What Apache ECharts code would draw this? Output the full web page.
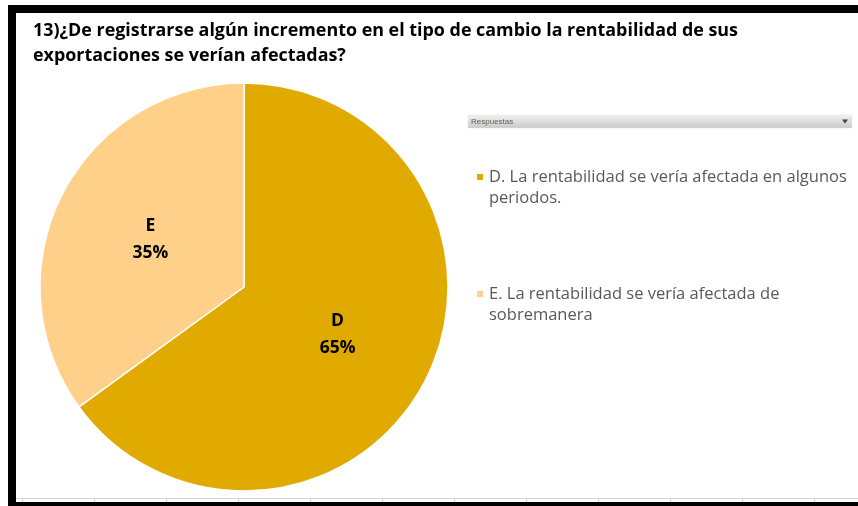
<!DOCTYPE html>
<html>
<head>
<meta charset="utf-8">
<script src="https://cdn.jsdelivr.net/npm/echarts@6/dist/echarts.min.js"></script>
<style>
  html, body { margin: 0; padding: 0; background: #fff; }
  #chart { width: 858px; height: 506px; }
</style>
</head>
<body>
<div id="chart"></div>
<script>
// pregunta 13 - gráfico de pastel
const titleText = "13)¿De registrarse algún incremento en el tipo de cambio la rentabilidad de sus\nexportaciones se verían afectadas?";
const letters = ["D", "E"];
const legendNames = [
  "D. La rentabilidad se vería afectada en algunos\nperiodos.",
  "E. La rentabilidad se vería afectada de\nsobremanera",
];
const percents = [65, 35];
const colors = ["#E1AA00", "#FFD08A"];

const chart = echarts.init(document.getElementById("chart"));

// columnas de la hoja (solo decoración)
const colLines = [22, 94, 166, 238, 310, 382, 454, 526, 598, 670, 742, 814];

const graphics = [
  // marco negro
  { type: "rect", shape: { x: 8, y: 5, width: 850, height: 8 }, style: { fill: "#000" } },
  { type: "rect", shape: { x: 8, y: 5, width: 8, height: 501 }, style: { fill: "#000" } },
  { type: "rect", shape: { x: 8, y: 502, width: 850, height: 4 }, style: { fill: "#000" } },
  { type: "line", shape: { x1: 16, y1: 498.5, x2: 858, y2: 498.5 }, style: { stroke: "#d4d4d4", lineWidth: 1 } },
  // barra "Respuestas"
  {
    type: "rect",
    shape: { x: 468, y: 115, width: 384, height: 13 },
    style: {
      fill: new echarts.graphic.LinearGradient(0, 0, 0, 1, [
        { offset: 0, color: "#f2f2f2" },
        { offset: 1, color: "#c8c8c8" },
      ]),
      stroke: "#e0e0e0",
      lineWidth: 0.5,
    },
  },
  {
    type: "text",
    x: 471, y: 121.5,
    style: { text: "Respuestas", fill: "#6a5a4a", font: "8px 'Liberation Sans'", verticalAlign: "middle" },
  },
  {
    type: "polygon",
    shape: { points: [[842, 119.5], [848, 119.5], [845, 123.5]] },
    style: { fill: "#444" },
  },
];
colLines.forEach((x) => {
  graphics.push({
    type: "line",
    shape: { x1: x + 0.5, y1: 498, x2: x + 0.5, y2: 502 },
    style: { stroke: "#d4d4d4", lineWidth: 1 },
  });
});

const option = {
  backgroundColor: "#fff",
  animation: false,
  title: {
    text: titleText,
    left: 28,
    top: 13,
    textStyle: {
      fontFamily: "'Open Sans', sans-serif",
      fontWeight: "bold",
      fontSize: 17.9,
      lineHeight: 25,
      color: "#000",
    },
  },
  legend: {
    orient: "vertical",
    left: 470,
    top: 162,
    itemWidth: 8,
    itemHeight: 30,
    itemGap: 75,
    icon: "path://M0,0H8V8H0Z M0,29.99L0.01,30Z",
    selectedMode: false,
    textStyle: {
      fontFamily: "'Open Sans', sans-serif",
      fontSize: 16.5,
      lineHeight: 21,
      color: "#595959",
      padding: [0, 0, 0, 0],
    },
    data: legendNames,
  },
  graphic: graphics,
  series: [
    {
      type: "pie",
      center: [244, 287],
      radius: 204,
      startAngle: 90,
      clockwise: true,
      itemStyle: { borderColor: "#fff", borderWidth: 1.5 },
      label: {
        show: true,
        position: "inside",
        formatter: (p) => letters[p.dataIndex] + "\n" + p.value + "%",
        color: "#000",
        fontFamily: "'Open Sans', sans-serif",
        fontWeight: "bold",
        fontSize: 17.5,
        lineHeight: 27,
      },
      labelLine: { show: false },
      emphasis: { disabled: true },
      data: legendNames.map((n, i) => ({
        name: n,
        value: percents[i],
        itemStyle: { color: colors[i] },
      })),
    },
  ],
};

chart.setOption(option);
</script>
</body>
</html>
